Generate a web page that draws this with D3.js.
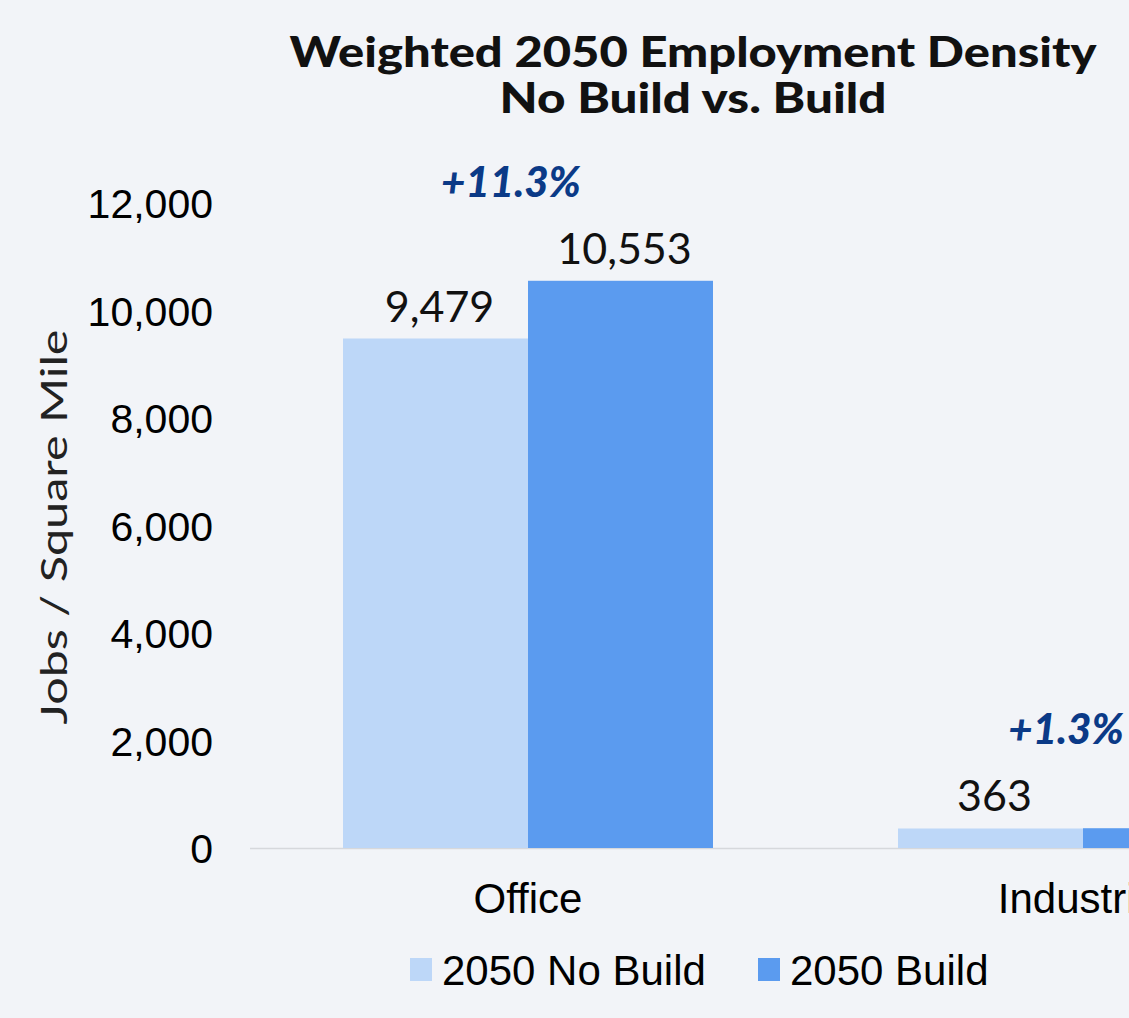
<!DOCTYPE html>
<html>
<head>
<meta charset="utf-8">
<script src="https://cdn.jsdelivr.net/npm/d3@7"></script>
<style>
  html, body { margin: 0; padding: 0; background: #f2f4f8; }
  svg { display: block; }
</style>
</head>
<body>
<svg id="chart" width="1129" height="1018"></svg>
<script>
// ---- data ----
const categories = ["Office", "Industrial"];
const seriesNames = ["2050 No Build", "2050 Build"];
const noBuild = [9479, 363];
const build = [10553, 368];
const pctLabels = ["+11.3%", "+1.3%"];
const yTicks = [0, 2000, 4000, 6000, 8000, 10000, 12000];
const colors = ["#bdd7f8", "#5b9bef"];

const titleLines = ["Weighted 2050 Employment Density", "No Build vs. Build"];
const yTitle = "Jobs / Square Mile";

// ---- layout ----
const W = 1129, H = 1018;
const svg = d3.select("#chart");
svg.append("rect").attr("width", W).attr("height", H).attr("fill", "#f2f4f8");

const y = d3.scaleLinear().domain([0, 12000]).range([848, 203]);
const x0 = d3.scaleBand().domain(categories).range([250.5, 1360.5]).padding(0);
const x1 = d3.scaleBand().domain(seriesNames).range([92.5, 462.5]).padding(0);

const rows = categories.map((c, i) => ({ cat: c, vals: [noBuild[i], build[i]], pct: pctLabels[i] }));

// title
const titleWidths = [807, 387];
svg.append("g").selectAll("text").data(titleLines).join("text")
  .attr("x", 693).attr("y", (d, i) => 67 + i * 46)
  .attr("text-anchor", "middle")
  .attr("font-family", "Lato, 'Open Sans', sans-serif")
  .attr("font-weight", 900)
  .attr("font-size", 42)
  .attr("textLength", (d, i) => titleWidths[i])
  .attr("lengthAdjust", "spacingAndGlyphs")
  .attr("fill", "#111")
  .text(d => d);

// y axis
const yAxis = d3.axisLeft(y).tickValues(yTicks).tickFormat(d3.format(",")).tickSize(0).tickPadding(0);
const gy = svg.append("g").attr("transform", "translate(213,0)").call(yAxis);
gy.select(".domain").remove();
gy.selectAll("text")
  .attr("font-family", "'Liberation Sans', Arial, sans-serif")
  .attr("font-size", 41)
  .attr("fill", "#000")
  .attr("dy", "0.36em");

// y title
svg.append("text")
  .attr("transform", "translate(67,527) rotate(-90)")
  .attr("text-anchor", "middle")
  .attr("font-family", "Lato, 'Noto Sans', sans-serif")
  .attr("font-weight", 400)
  .attr("font-size", 36)
  .attr("textLength", 395)
  .attr("lengthAdjust", "spacingAndGlyphs")
  .attr("fill", "#222")
  .text(yTitle);

// baseline
svg.append("line")
  .attr("x1", 250).attr("x2", W)
  .attr("y1", y(0) + 0.5).attr("y2", y(0) + 0.5)
  .attr("stroke", "#d6d8dc").attr("stroke-width", 1.5);

// bars
const groups = svg.append("g").selectAll("g").data(rows).join("g")
  .attr("transform", d => `translate(${x0(d.cat)},0)`);

groups.selectAll("rect").data(d => d.vals.map((v, i) => ({ s: seriesNames[i], v, i }))).join("rect")
  .attr("x", d => x1(d.s))
  .attr("width", x1.bandwidth())
  .attr("y", d => y(d.v))
  .attr("height", d => y(0) - y(d.v))
  .attr("fill", d => colors[d.i]);

// value labels
groups.selectAll("text.val").data(d => d.vals.map((v, i) => ({ s: seriesNames[i], v, i, cat: d.cat })))
  .join("text").attr("class", "val")
  .attr("x", d => x1(d.s) + x1.bandwidth() / 2 + 4)
  .attr("y", d => y(d.v) - 17)
  .attr("text-anchor", "middle")
  .attr("font-family", "Lato, 'Noto Sans', sans-serif")
  .attr("font-weight", 400)
  .attr("font-size", 43)
  .attr("fill", "#111")
  .text(d => d3.format(",")(d.v));

// percent labels
groups.append("text")
  .attr("x", x0.bandwidth() / 2 - 17)
  .attr("y", d => y(d3.max(d.vals)) - 84)
  .attr("text-anchor", "middle")
  .attr("font-family", "Lato, 'Open Sans', sans-serif")
  .attr("font-weight", 900)
  .attr("font-style", "italic")
  .attr("font-size", 42)
  .attr("fill", "#0b3a87")
  .text(d => d.pct);

// category axis labels
const xAxis = d3.axisBottom(x0).tickSize(0).tickPadding(0);
const gx = svg.append("g").attr("transform", "translate(0,913)").call(xAxis);
gx.select(".domain").remove();
gx.selectAll("text")
  .attr("font-family", "'Liberation Sans', Arial, sans-serif")
  .attr("font-size", 42)
  .attr("fill", "#000")
  .attr("dy", 0);

// legend
const legend = svg.append("g").attr("transform", "translate(410,958)");
const legX = [0, 348];
const lg = legend.selectAll("g").data(seriesNames).join("g")
  .attr("transform", (d, i) => `translate(${legX[i]},0)`);
lg.append("rect").attr("width", 22).attr("height", 23).attr("fill", (d, i) => colors[i]);
lg.append("text").attr("x", 32).attr("y", 27)
  .attr("font-family", "'Liberation Sans', Arial, sans-serif")
  .attr("font-size", 42)
  .attr("fill", "#000")
  .text(d => d);
</script>
</body>
</html>
